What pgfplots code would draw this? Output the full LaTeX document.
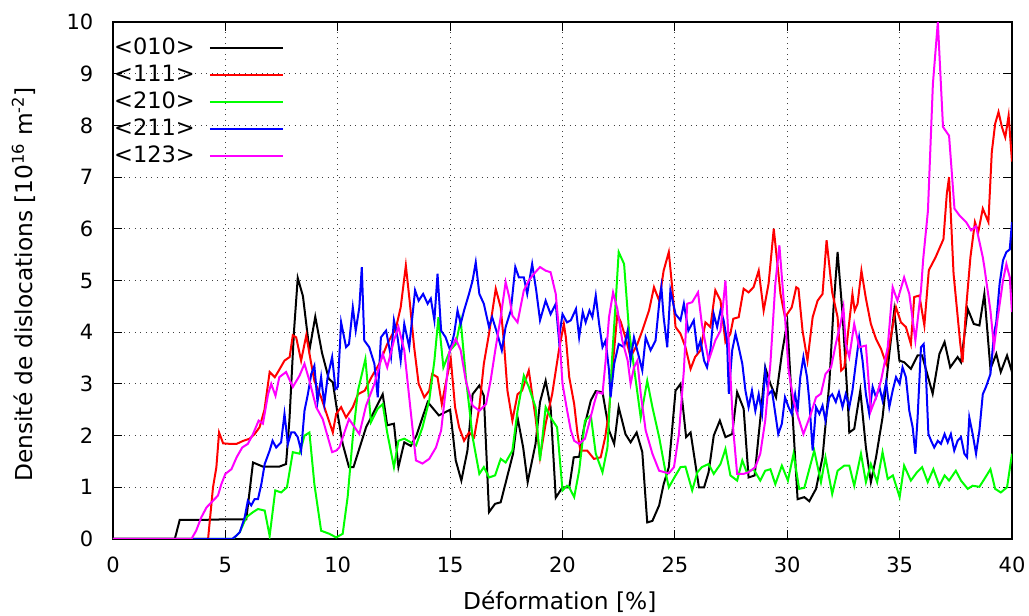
\documentclass[border=0pt]{standalone}
\usepackage{fontspec}
\setmainfont{DejaVu Sans}
\usepackage{pgfplots}
\pgfplotsset{compat=1.18}
\definecolor{gblack}{RGB}{0,0,0}
\definecolor{gred}{RGB}{255,0,0}
\definecolor{ggreen}{RGB}{0,255,0}
\definecolor{gblue}{RGB}{0,0,255}
\definecolor{gmag}{RGB}{255,0,255}
\begin{document}
\fontsize{21}{25}\selectfont
\begin{tikzpicture}
\path[use as bounding box] (-113pt,-77pt) rectangle (916pt,539pt);
\begin{axis}[
  at={(0,0)}, anchor=south west,
  scale only axis, width=899pt, height=517pt,
  xmin=0, xmax=40, ymin=0, ymax=10,
  xtick={0,5,...,40}, ytick={0,1,...,10},
  tick align=inside, major tick length=9pt,
  xtick pos=both, ytick pos=both,
  grid=major,
  major grid style={black!75, dash pattern=on 1pt off 4.5pt, line width=0.9pt},
  axis line style={line width=1.1pt},
  tick style={black, line width=1pt},
  ticklabel style={font=\fontsize{21}{25}\selectfont},
  /pgf/number format/assume math mode=true,
  xticklabel style={anchor=base, inner sep=0pt, yshift=-34pt},
  yticklabel style={anchor=east, inner sep=0pt, xshift=-19.5pt},
  xlabel={Déformation [\%]},
  ylabel={Densité de dislocations [10\textsuperscript{16} m\textsuperscript{-2}]},
  label style={font=\fontsize{23.3}{27}\selectfont, inner sep=0pt},
  xlabel style={at={(axis description cs:0.497,-0.1373)}, anchor=base},
  ylabel style={at={(axis description cs:-0.089,0.4923)}, anchor=base},
  legend style={at={(axis description cs:0.0013,0.9706)}, anchor=north west,
    draw=none, fill=none, inner sep=0pt, outer sep=0pt,
    font=\fontsize{22.5}{27}\selectfont,
    nodes={inner sep=0pt, text height=17pt, text depth=4pt},
    row sep=6.2pt, column sep=14pt},
  legend cell align=left,
  legend plot pos=right,
  legend image code/.code={\draw[#1] (0pt,0pt) -- (73pt,0pt);},
]
\addplot[gblack, line width=2pt] coordinates {
(0,0) (2.75,0) (2.97,0.37) (4,0.37) (5,0.38) (5.93,0.38) (6.23,1.48) (6.67,1.4) (7.4,1.4) (7.7,1.45)
(7.85,2.3) (8.05,4.0) (8.22,5.05) (8.45,4.7) (8.74,3.65) (9.0,4.3) (9.3,3.6) (9.6,3.1) (9.78,3.03)
(10.0,2.4) (10.22,1.84) (10.5,1.39) (10.7,1.39) (11.26,2.16) (12.0,2.8) (12.2,2.2) (12.5,2.23) (12.7,1.39)
(12.96,1.87) (13.25,1.8) (13.5,2.0) (14.0,2.65) (14.5,2.39) (15.0,2.5) (15.25,1.52) (15.5,1.13) (15.77,1.71)
(16.0,2.8) (16.3,2.97) (16.5,2.77) (16.73,0.52) (17.0,0.68) (17.25,0.71) (17.8,1.65) (18.0,2.35) (18.25,1.77)
(18.45,1.1) (18.8,1.84) (19.0,2.65) (19.25,3.06) (19.47,2.55) (19.7,0.8) (20.0,1.0) (20.3,1.0) (20.5,1.58)
(20.74,1.59) (20.96,2.16) (21.26,2.68) (21.48,2.86) (21.78,2.84) (22.07,2.1) (22.3,1.84) (22.5,2.55) (22.8,2.03)
(23.03,1.87) (23.3,2.06) (23.55,1.68) (23.77,0.32) (24.0,0.35) (24.3,0.65) (24.5,1.06) (24.73,1.39) (25.03,2.87)
(25.25,3.0) (25.5,1.97) (25.7,2.06) (26.07,1.0) (26.3,1.0) (26.5,1.29) (26.73,2.0) (27.0,2.29) (27.25,1.97)
(27.55,2.03) (27.77,2.84) (28.06,2.52) (28.28,1.19) (28.55,1.23) (28.8,2.32) (29.02,3.32) (29.25,3.0) (29.5,2.74)
(29.76,3.58) (30.0,4.19) (30.2,2.68) (30.46,0.77) (30.76,0.81) (30.98,0.73) (31.28,0.97) (31.57,1.58) (31.87,3.0)
(32.06,4.48) (32.24,5.55) (32.46,4.35) (32.7,2.6) (32.76,2.06) (32.98,2.13) (33.25,2.87) (33.5,1.77) (33.72,1.1)
(33.95,1.58) (34.24,2.35) (34.54,3.58) (34.76,4.42) (34.99,3.45) (35.2,3.42) (35.5,3.29) (35.8,3.55) (36.0,3.55)
(36.47,2.81) (36.77,3.58) (37.0,3.81) (37.25,3.32) (37.58,3.52) (37.73,3.42) (38.03,4.45) (38.3,4.16) (38.55,4.13)
(38.77,4.74) (39.04,3.29) (39.3,3.58) (39.5,3.23) (39.78,3.55) (40.0,3.23)
};
\addlegendentry{<010>}
\addplot[gred, line width=2pt] coordinates {
(0,0) (4.23,0) (4.45,1.0) (4.6,1.39) (4.72,2.06) (4.9,1.85) (5.2,1.84) (5.5,1.84) (5.8,1.9) (6.08,1.94)
(6.3,2.03) (6.52,2.16) (6.74,2.5) (6.97,3.23) (7.2,3.13) (7.34,3.23) (7.63,3.45) (7.86,3.52) (8.0,3.94) (8.15,3.9)
(8.37,3.45) (8.6,3.94) (8.82,3.39) (8.96,3.06) (9.26,2.74) (9.56,2.35) (9.78,2.06) (9.93,2.42) (10.15,2.55)
(10.37,2.35) (10.67,2.55) (10.9,2.8) (11.2,2.87) (11.5,3.13) (11.85,3.39) (12.2,3.77) (12.6,4.1) (12.8,4.48)
(13.03,5.29) (13.2,4.6) (13.4,3.71) (13.6,3.0) (13.85,2.74) (14.07,2.87) (14.2,3.19) (14.44,3.13) (14.63,2.61)
(14.8,3.0) (15.03,3.48) (15.22,2.55) (15.4,2.16) (15.62,1.9) (15.84,2.06) (16.07,1.97) (16.3,2.55) (16.5,3.39)
(16.73,3.97) (17.03,4.84) (17.25,4.48) (17.4,3.77) (17.55,2.87) (17.77,2.29) (18.0,2.8) (18.2,2.87) (18.5,3.26)
(18.8,2.35) (19.0,1.58) (19.25,2.23) (19.54,2.8) (19.84,3.65) (20.06,4.16) (20.15,3.9) (20.3,3.13) (20.52,2.61)
(20.67,2.03) (20.8,1.71) (21.1,1.71) (21.4,1.55) (21.7,1.58) (21.9,1.97) (22.07,2.48) (22.2,3.19) (22.44,4.35)
(22.6,4.19) (22.8,3.9) (23.03,3.52) (23.33,3.77) (23.55,4.03) (23.85,4.42) (24.07,4.87) (24.3,4.61) (24.5,5.19)
(24.73,5.55) (24.88,4.87) (25.03,4.1) (25.25,3.97) (25.47,3.71) (25.7,3.29) (25.9,3.52) (26.14,3.65) (26.36,4.19)
(26.58,4.1) (26.8,4.81) (27.03,4.61) (27.25,3.81) (27.47,3.97) (27.6,4.26) (27.84,4.29) (28.06,4.84) (28.28,4.77)
(28.5,4.87) (28.73,5.19) (28.95,4.42) (29.17,4.94) (29.4,6.0) (29.7,4.74) (29.9,4.29) (30.2,4.48) (30.4,4.87)
(30.5,4.84) (30.68,4.03) (30.9,3.45) (31.13,4.29) (31.35,4.61) (31.57,4.74) (31.75,5.78) (32.0,4.77) (32.24,4.29)
(32.4,3.26) (32.54,3.32) (32.7,3.97) (32.9,4.74) (33.0,4.42) (33.13,4.55) (33.3,5.19) (33.5,4.65) (33.72,4.16)
(33.95,3.87) (34.17,3.68) (34.4,3.39) (34.6,3.9) (34.84,4.48) (35.06,4.19) (35.28,4.1) (35.5,3.77) (35.65,4.68)
(35.88,4.71) (36.1,4.13) (36.3,5.2) (36.6,5.45) (36.95,5.8) (37.1,6.68) (37.2,7.0) (37.4,5.13) (37.7,3.77)
(37.8,3.42) (37.95,4.42) (38.15,5.45) (38.35,6.13) (38.5,5.94) (38.7,6.39) (38.95,6.13) (39.1,7.48) (39.25,8.03)
(39.4,8.26) (39.55,7.97) (39.7,7.77) (39.85,8.19) (40.0,7.3)
};
\addlegendentry{<111>}
\addplot[ggreen, line width=2pt] coordinates {
(0,0) (5.34,0) (5.64,0.13) (5.93,0.42) (6.23,0.52) (6.45,0.58) (6.75,0.55) (6.97,0.06) (7.22,0.94) (7.48,0.9)
(7.74,1.0) (8.0,1.68) (8.3,1.65) (8.52,2.0) (8.74,2.06) (8.96,1.06) (9.26,0.16) (9.63,0.1) (9.93,0.03) (10.22,0.1)
(10.44,0.81) (10.67,1.97) (10.9,2.87) (11.23,3.48) (11.48,2.26) (11.78,2.52) (12.0,2.61) (12.2,2.06) (12.5,1.39)
(12.7,1.9) (12.96,1.94) (13.25,1.87) (13.48,1.81) (13.77,2.16) (14.07,2.68) (14.3,3.45) (14.48,4.29) (14.7,3.32)
(15.0,3.65) (15.25,3.77) (15.47,4.23) (15.7,3.13) (16.0,1.97) (16.3,1.26) (16.5,1.39) (16.73,1.19) (17.0,1.23)
(17.25,1.55) (17.47,1.48) (17.77,1.71) (18.0,2.48) (18.28,3.16) (18.5,2.94) (18.8,2.55) (19.0,1.52) (19.25,2.55)
(19.47,2.35) (19.76,2.16) (20.0,0.94) (20.2,1.03) (20.3,1.0) (20.52,0.81) (20.74,1.32) (21.0,2.29) (21.26,2.39)
(21.48,1.65) (21.78,1.29) (22.0,1.77) (22.2,3.45) (22.37,4.61) (22.5,5.55) (22.74,5.32) (22.96,4.03) (23.18,3.32)
(23.48,2.35) (23.77,3.06) (24.0,2.55) (24.3,1.97) (24.6,1.26) (24.73,1.0) (25.03,1.23) (25.25,1.39) (25.47,1.4)
(25.77,0.94) (26.0,1.29) (26.2,1.39) (26.5,1.45) (26.73,1.26) (27.03,1.45) (27.25,1.74) (27.47,1.23) (27.77,1.13)
(28.0,1.52) (28.2,1.29) (28.5,1.35) (28.8,1.13) (29.02,1.32) (29.25,1.35) (29.47,1.06) (29.76,1.42) (30.03,1.13)
(30.28,1.65) (30.53,0.97) (30.76,0.99) (31.2,1.71) (31.5,1.1) (31.7,1.58) (32.0,0.87) (32.24,1.32) (32.54,1.42)
(32.76,1.42) (32.98,1.03) (33.28,1.65) (33.5,1.1) (33.72,1.45) (34.0,1.1) (34.24,1.68) (34.47,1.16) (34.7,1.23)
(35.0,0.81) (35.2,1.42) (35.5,1.13) (35.77,1.29) (36.0,1.39) (36.25,1.1) (36.5,1.35) (36.77,1.03) (37.0,1.23)
(37.2,1.13) (37.5,1.32) (37.73,1.13) (38.03,0.97) (38.25,1.03) (38.55,1.01) (38.77,1.16) (39.04,1.35) (39.25,0.97)
(39.5,0.9) (39.78,1.0) (40.0,1.65)
};
\addlegendentry{<210>}
\addplot[gblue, line width=2pt] coordinates {
(0,0) (5.3,0) (5.45,0.05) (5.64,0.13) (5.86,0.42) (6.0,0.74) (6.15,0.65) (6.3,0.77) (6.45,0.77) (6.6,1.06)
(6.75,1.45) (6.97,1.71) (7.1,1.9) (7.26,1.77) (7.48,1.87) (7.63,2.42) (7.78,1.84) (7.93,2.06) (8.08,2.06) (8.22,1.97)
(8.37,1.71) (8.52,2.48) (8.67,2.8) (8.82,3.19) (8.96,3.35) (9.1,2.65) (9.26,3.13) (9.4,2.61) (9.55,3.13) (9.75,3.52)
(9.9,2.9) (10.0,2.94) (10.15,4.19) (10.37,3.71) (10.5,3.77) (10.67,4.48) (10.8,4.03) (10.96,4.48) (11.07,5.26)
(11.18,3.84) (11.4,3.71) (11.63,3.39) (11.78,2.74) (11.92,3.9) (12.15,4.03) (12.37,3.52) (12.5,4.23) (12.66,3.9)
(12.8,3.45) (12.96,4.16) (13.18,3.71) (13.44,4.81) (13.6,4.61) (13.8,4.74) (14.0,4.55) (14.14,4.65) (14.3,4.23)
(14.44,5.13) (14.6,4.03) (14.8,3.9) (15.0,3.65) (15.18,3.97) (15.33,4.42) (15.47,4.16) (15.62,4.42) (15.84,4.74)
(16.0,5.0) (16.14,5.35) (16.3,4.74) (16.5,4.55) (16.73,4.1) (16.87,4.29) (17.1,3.97) (17.3,3.65) (17.47,4.1)
(17.7,4.42) (17.9,5.26) (18.06,5.06) (18.28,5.06) (18.43,4.74) (18.65,5.32) (18.83,4.81) (19.0,4.23) (19.25,4.61)
(19.47,4.35) (19.7,4.55) (19.84,3.87) (20.0,4.35) (20.2,4.19) (20.37,4.23) (20.6,4.45) (20.74,3.9) (20.9,4.39)
(21.03,4.19) (21.2,4.42) (21.33,4.29) (21.48,4.71) (21.63,4.16) (21.78,3.71) (21.92,3.84) (22.07,3.26) (22.14,2.74)
(22.3,3.39) (22.5,3.77) (22.74,3.71) (22.9,4.03) (23.03,3.45) (23.18,3.9) (23.4,3.52) (23.55,3.26) (23.7,3.9)
(23.92,3.65) (24.14,3.84) (24.3,4.55) (24.4,4.87) (24.5,4.29) (24.66,3.71) (24.8,4.81) (25.03,4.35) (25.25,4.23)
(25.4,4.55) (25.6,4.03) (25.84,4.23) (26.0,3.65) (26.14,3.84) (26.3,3.45) (26.43,3.32) (26.58,3.65) (26.73,4.35)
(26.88,4.1) (27.03,4.42) (27.17,4.23) (27.32,3.84) (27.4,2.81) (27.55,3.65) (27.7,3.97) (27.84,3.71) (28.0,3.39)
(28.14,2.87) (28.28,2.55) (28.43,2.87) (28.58,2.48) (28.73,2.8) (28.88,2.42) (29.02,3.26) (29.17,2.8) (29.32,2.87)
(29.47,2.42) (29.6,2.03) (29.76,2.23) (29.9,2.74) (30.06,2.55) (30.2,2.42) (30.35,2.8) (30.46,2.48) (30.58,3.13)
(30.72,3.52) (30.88,3.13) (30.98,2.68) (31.13,1.71) (31.28,2.55) (31.43,2.42) (31.57,2.58) (31.7,2.29) (31.87,2.74)
(32.0,2.8) (32.16,2.65) (32.3,2.84) (32.46,2.55) (32.6,2.8) (32.76,2.55) (32.9,2.87) (33.05,3.39) (33.2,3.9)
(33.35,3.45) (33.5,2.8) (33.65,2.42) (33.8,2.94) (33.95,2.74) (34.1,2.94) (34.24,2.68) (34.4,3.03) (34.54,2.55)
(34.69,2.87) (34.84,3.13) (35.0,3.0) (35.13,3.32) (35.28,3.13) (35.43,2.48) (35.58,2.16) (35.7,1.65) (35.8,2.35)
(35.95,3.71) (36.07,3.77) (36.17,3.19) (36.28,2.03) (36.4,1.9) (36.54,1.77) (36.7,1.9) (36.84,1.84) (37.0,2.03)
(37.14,1.87) (37.28,2.03) (37.43,1.71) (37.58,1.9) (37.73,1.97) (37.88,1.65) (38.0,1.58) (38.1,2.35) (38.25,2.03)
(38.4,1.65) (38.55,2.1) (38.7,2.8) (38.84,2.94) (39.04,3.19) (39.2,3.97) (39.3,4.19) (39.45,4.94) (39.6,5.39)
(39.75,5.55) (39.9,5.6) (40.0,6.13)
};
\addlegendentry{<211>}
\addplot[gmag, line width=2pt] coordinates {
(0,0) (3.49,0) (3.7,0.16) (3.93,0.42) (4.16,0.61) (4.38,0.71) (4.67,0.84) (4.82,1.06) (5.0,1.26) (5.27,1.35)
(5.5,1.58) (5.75,1.77) (6.0,1.84) (6.23,2.03) (6.48,2.29) (6.67,2.23) (6.9,2.8) (7.04,3.0) (7.23,2.77) (7.4,3.13)
(7.7,3.23) (8.0,2.94) (8.3,3.16) (8.52,3.39) (8.74,3.06) (9.04,2.55) (9.33,2.32) (9.75,1.68) (9.93,1.71) (10.07,1.77)
(10.5,2.32) (10.96,2.03) (11.26,2.58) (11.63,3.0) (12.0,3.58) (12.2,3.32) (12.5,3.84) (12.7,4.1) (12.96,3.65)
(13.18,2.74) (13.48,1.52) (13.77,1.46) (14.07,1.55) (14.37,1.77) (14.6,2.1) (14.8,2.87) (14.96,3.61) (15.25,3.87)
(15.47,3.65) (15.7,3.06) (16.0,2.58) (16.3,2.48) (16.6,2.61) (16.8,3.06) (17.03,3.71) (17.25,4.29) (17.47,4.97)
(17.63,4.68) (17.77,4.32) (18.0,4.19) (18.28,4.81) (18.5,5.0) (18.73,5.13) (19.0,5.26) (19.25,5.19) (19.47,5.16)
(19.7,4.74) (19.85,4.0) (20.0,3.0) (20.2,2.5) (20.37,2.1) (20.52,1.9) (20.74,1.84) (21.0,1.94) (21.18,2.23)
(21.4,2.61) (21.55,2.84) (21.78,2.81) (21.92,3.45) (22.07,4.29) (22.25,4.77) (22.44,4.45) (22.66,3.84) (22.9,3.45)
(23.03,3.0) (23.18,3.32) (23.33,3.45) (23.48,2.81) (23.7,2.1) (24.0,1.65) (24.3,1.32) (24.73,1.27) (24.96,1.39)
(25.18,2.03) (25.4,3.26) (25.55,4.55) (25.77,4.58) (26.03,4.77) (26.2,4.16) (26.5,3.45) (26.8,3.84) (27.03,4.03)
(27.25,5.0) (27.4,3.77) (27.6,2.1) (27.77,1.26) (28.06,1.26) (28.28,1.29) (28.58,1.39) (28.8,1.65) (29.02,2.29)
(29.25,3.39) (29.47,4.94) (29.65,5.68) (29.9,4.29) (30.06,3.26) (30.28,2.68) (30.4,2.48) (30.72,2.03) (31.05,2.42)
(31.28,2.74) (31.5,2.81) (31.7,3.19) (31.95,3.32) (32.16,3.77) (32.4,4.23) (32.5,4.48) (32.6,3.77) (32.76,3.52)
(32.98,4.16) (33.2,3.71) (33.5,3.74) (33.72,2.48) (33.95,2.74) (34.17,3.06) (34.47,3.71) (34.69,4.87) (34.9,4.61)
(35.2,5.06) (35.43,4.74) (35.7,3.84) (35.95,4.81) (36.05,5.42) (36.26,6.35) (36.48,8.8) (36.7,10.0) (36.93,7.97)
(37.2,7.8) (37.44,6.39) (37.66,6.26) (37.96,6.13) (38.18,5.97) (38.4,6.05) (38.7,5.45) (38.77,5.26) (39.04,4.42)
(39.2,3.71) (39.35,4.23) (39.6,5.0) (39.75,5.32) (39.9,5.06) (40.0,4.39)
};
\addlegendentry{<123>}
\end{axis}
\end{tikzpicture}
\end{document}
